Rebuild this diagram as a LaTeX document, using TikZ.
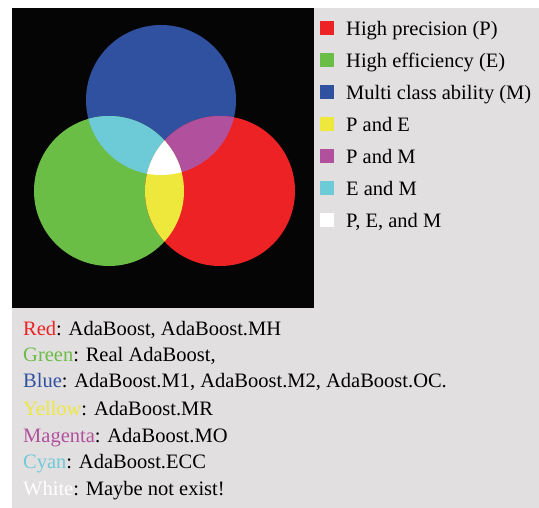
\documentclass[tikz,border=0pt]{standalone}
\usepackage{fontspec}
\setmainfont{Liberation Serif}
\definecolor{bgray}{HTML}{E2DFE0}
\definecolor{cred}{HTML}{ED2224}
\definecolor{cgreen}{HTML}{6ABD45}
\definecolor{cblue}{HTML}{3050A0}
\definecolor{cyellow}{HTML}{EEE83D}
\definecolor{cmagenta}{HTML}{B1519E}
\definecolor{ccyan}{HTML}{6DCBD8}
\tikzset{
  legsq/.style={fill=#1, minimum size=13.5pt, inner sep=0pt, anchor=south west},
  legtxt/.style={anchor=base west, inner sep=0pt, font=\fontsize{20.5}{22}\selectfont},
  methtxt/.style={anchor=base west, inner sep=0pt, font=\fontsize{20.5}{22}\selectfont}
}
\begin{document}
\begin{tikzpicture}[x=1pt,y=-1pt]
\useasboundingbox (0,0) rectangle (539,508);
\fill[white] (0,0) rectangle (539,508);
\fill[bgray] (12,8) rectangle (539,508);
\fill[black!98] (12,8) rectangle (314,308);
% circles
\def\cB{(161,100) circle[radius=75]}
\def\cG{(109,191) circle[radius=75]}
\def\cR{(220,191) circle[radius=75]}
\fill[cblue] \cB;
\fill[cgreen] \cG;
\fill[cred] \cR;
\begin{scope}\clip \cG; \fill[ccyan] \cB; \end{scope}
\begin{scope}\clip \cR; \fill[cmagenta] \cB; \end{scope}
\begin{scope}\clip \cR; \fill[cyellow] \cG; \end{scope}
\begin{scope}\clip \cR; \clip \cG; \fill[white] \cB; \end{scope}
% legend
\node[legsq=cred] (s1) at (320,35) {};
\node[legsq=cgreen] (s2) at (320,67) {};
\node[legsq=cblue] (s3) at (320,99) {};
\node[legsq=cyellow] (s4) at (320,131) {};
\node[legsq=cmagenta] (s5) at (320,163) {};
\node[legsq=ccyan] (s6) at (320,195) {};
\node[legsq=white] (s7) at (320,227) {};
\node[legtxt] (l1) at (346,36) {High precision (P)};
\node[legtxt] (l2) at (346,68) {High efficiency (E)};
\node[legtxt] (l3) at (346,100) {Multi class ability (M)};
\node[legtxt] (l4) at (346,132) {P and E};
\node[legtxt] (l5) at (346,164) {P and M};
\node[legtxt] (l6) at (346,196) {E and M};
\node[legtxt] (l7) at (346,228) {P, E, and M};
% methods
\node[methtxt] (m1) at (23,335) {\textcolor{cred}{Red}: AdaBoost, AdaBoost.MH};
\node[methtxt] (m2) at (23,362) {\textcolor{cgreen}{Green}: Real AdaBoost,};
\node[methtxt] (m3) at (23,388) {\textcolor{cblue}{Blue}: AdaBoost.M1, AdaBoost.M2, AdaBoost.OC.};
\node[methtxt] (m4) at (23,415) {\textcolor{cyellow}{Yellow}: AdaBoost.MR};
\node[methtxt] (m5) at (23,442) {\textcolor{cmagenta}{Magenta}: AdaBoost.MO};
\node[methtxt] (m6) at (23,468) {\textcolor{ccyan}{Cyan}: AdaBoost.ECC};
\node[methtxt] (m7) at (23,495) {\textcolor{white}{White}: Maybe not exist!};
\end{tikzpicture}
\end{document}
